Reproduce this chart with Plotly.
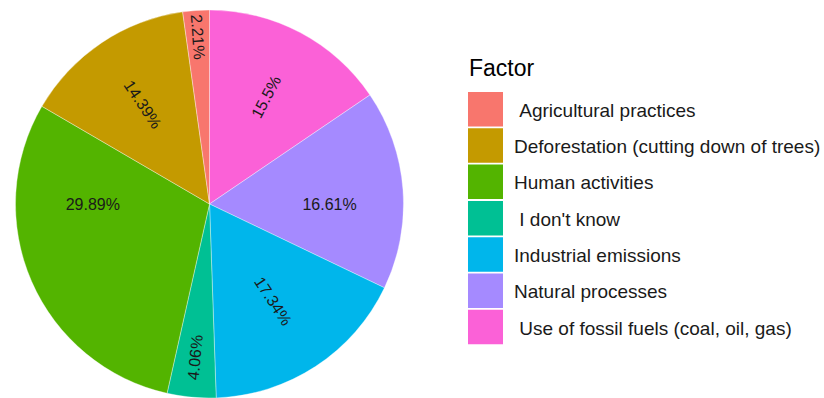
import plotly.graph_objects as go

# Survey responses: perceived main factor behind climate change (share, %)
factors = [
    " Agricultural practices",
    "Deforestation (cutting down of trees)",
    "Human activities",
    " I don't know",
    "Industrial emissions",
    "Natural processes",
    " Use of fossil fuels (coal, oil, gas)",
]
shares = [2.21, 14.39, 29.89, 4.06, 17.34, 16.61, 15.5]
palette = ["#F8766D", "#C49A00", "#53B400", "#00C094", "#00B6EB", "#A58AFF", "#FB61D7"]
legend_title = "Factor"

W, H = 824, 398
TOP = 10
FONT = "Liberation Sans, Arial, sans-serif"

# slices run clockwise from 12 o'clock in reverse factor order
pie_labels = factors[::-1]
pie_values = shares[::-1]
pie_colors = palette[::-1]

fig = go.Figure(
    go.Pie(
        labels=pie_labels,
        values=pie_values,
        sort=False,
        direction="clockwise",
        rotation=0,
        marker=dict(colors=pie_colors, line=dict(color="rgba(255,255,255,0.6)", width=0.6)),
        texttemplate="%{value}%",
        textposition="inside",
        insidetextorientation="radial",
        textfont=dict(family=FONT, size=16, color="#1a1a1a"),
        hoverinfo="label+value",
        showlegend=False,
        domain=dict(x=[0, 419 / W], y=[0, 1]),
    )
)


def px_x(x):
    return x / W


def px_y(y):
    return 1 - (y - TOP) / (H - TOP)


# legend drawn as keys + labels
shapes = []
annotations = [
    dict(
        text=legend_title, x=px_x(467), y=px_y(68), xref="paper", yref="paper",
        xanchor="left", yanchor="middle", showarrow=False,
        font=dict(family=FONT, size=23, color="#000000"),
    )
]
key_top, pitch, key_size = 92, 36.3, 34.5
for i, (name, col) in enumerate(zip(factors, palette)):
    y0 = key_top + i * pitch
    shapes.append(dict(
        type="rect", xref="paper", yref="paper",
        x0=px_x(468), x1=px_x(503), y0=px_y(y0), y1=px_y(y0 + key_size),
        fillcolor=col, line=dict(width=0),
    ))
    annotations.append(dict(
        text=name.replace(" ", "&nbsp;", 1) if name.startswith(" ") else name,
        x=px_x(512), y=px_y(y0 + key_size / 2 + 1), xref="paper", yref="paper",
        xanchor="left", yanchor="middle", showarrow=False,
        font=dict(family=FONT, size=19, color="#1a1a1a"),
    ))

fig.update_layout(
    width=W,
    height=H,
    margin=dict(l=0, r=0, t=TOP, b=0),
    paper_bgcolor="white",
    plot_bgcolor="white",
    shapes=shapes,
    annotations=annotations,
)

fig.write_html("out.html")
